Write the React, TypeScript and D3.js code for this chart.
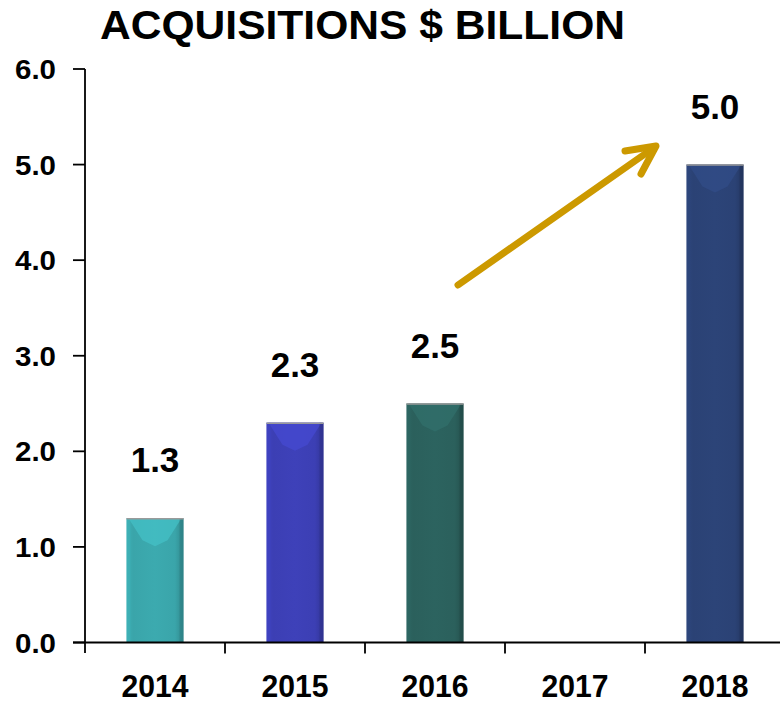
import React from "react";
import * as d3 from "d3";

const categories = ["2014", "2015", "2016", "2017", "2018"];
const values: (number | null)[] = [1.3, 2.3, 2.5, null, 5.0];
const valueLabels = ["1.3", "2.3", "2.5", "", "5.0"];
const yTicks = [0, 1, 2, 3, 4, 5, 6];
const barColors = ["#3aa5aa", "#3c3fb4", "#2b605c", "", "#2b4275"];
const titleText = "ACQUISITIONS $ BILLION";

const W = 780;
const H = 704;
const FONT = "'Liberation Sans', Arial, sans-serif";

export default function App() {
  const x = d3.scaleBand<string>().domain(categories).range([85, 785]).paddingInner(0).paddingOuter(0);
  const y = d3.scaleLinear().domain([0, 6]).range([642.5, 69]);
  const barW = 57;

  const lighten = (c: string, k: number) => d3.color(c)!.brighter(k).formatHex();
  const darken = (c: string, k: number) => d3.color(c)!.darker(k).formatHex();

  return (
    <svg width={W} height={H} style={{ display: "block", position: "absolute", left: 0, top: 0 }}>
      <defs>
        {barColors.map((c, i) =>
          c ? (
            <linearGradient key={i} id={`g${i}`} x1="0" x2="1" y1="0" y2="0">
              <stop offset="0" stopColor={lighten(c, 0.15)} />
              <stop offset="0.12" stopColor={c} />
              <stop offset="0.5" stopColor={lighten(c, 0.08)} />
              <stop offset="0.85" stopColor={c} />
              <stop offset="1" stopColor={darken(c, 0.5)} />
            </linearGradient>
          ) : null
        )}
      </defs>
      <rect x={0} y={0} width={W} height={H} fill="#fff" />

      {/* title */}
      <text x={100} y={39} fontFamily={FONT} fontWeight="bold" fontSize={40} textLength={525} lengthAdjust="spacingAndGlyphs" fill="#000">
        {titleText}
      </text>

      {/* bars */}
      {categories.map((cat, i) => {
        const v = values[i];
        if (v == null) return null;
        const cx = x(cat)! + x.bandwidth() / 2;
        const x0 = cx - barW / 2;
        const yt = y(v);
        const yb = y(0);
        const c = barColors[i];
        const tri = 22;
        return (
          <g key={cat}>
            <rect x={x0} y={yt} width={barW} height={yb - yt} fill={`url(#g${i})`} />
            <polygon
              points={`${x0 + 2},${yt} ${x0 + barW - 2},${yt} ${x0 + barW - 16},${yt + tri} ${cx},${yt + tri + 6} ${x0 + 16},${yt + tri}`}
              fill={lighten(c, 0.45)}
              opacity={0.7}
            />
            <rect x={x0} y={yt} width={4} height={yb - yt} fill={lighten(c, 0.3)} opacity={0.35} />
            <rect x={x0 + barW - 4} y={yt} width={4} height={yb - yt} fill={darken(c, 0.8)} opacity={0.5} />
            <line x1={x0} x2={x0 + barW} y1={yt + 0.5} y2={yt + 0.5} stroke="#9a9a9a" strokeWidth={1.5} />
            <text
              x={cx}
              y={yt - 46}
              textAnchor="middle"
              fontFamily={FONT}
              fontWeight="bold"
              fontSize={35}
              fill="#000"
            >
              {valueLabels[i]}
            </text>
          </g>
        );
      })}

      {/* y axis */}
      <line x1={85} x2={85} y1={y(6)} y2={653} stroke="#000" strokeWidth={1.8} />
      {yTicks.map((t) => (
        <g key={t}>
          <line x1={73} x2={85} y1={y(t)} y2={y(t)} stroke="#000" strokeWidth={1.8} />
          <text
            x={56}
            y={y(t) + 10}
            textAnchor="end"
            fontFamily={FONT}
            fontWeight="bold"
            fontSize={28}
            textLength={41}
            lengthAdjust="spacingAndGlyphs"
            fill="#000"
          >
            {t.toFixed(1)}
          </text>
        </g>
      ))}

      {/* x axis */}
      <line x1={73} x2={780} y1={y(0)} y2={y(0)} stroke="#000" strokeWidth={1.8} />
      {categories.map((cat, i) =>
        i > 0 ? (
          <line key={cat} x1={x(cat)!} x2={x(cat)!} y1={y(0)} y2={y(0) + 11} stroke="#000" strokeWidth={1.8} />
        ) : null
      )}
      {categories.map((cat) => (
        <text
          key={cat}
          x={x(cat)! + x.bandwidth() / 2}
          y={697}
          textAnchor="middle"
          fontFamily={FONT}
          fontWeight="bold"
          fontSize={31}
          textLength={67}
          lengthAdjust="spacingAndGlyphs"
          fill="#000"
        >
          {cat}
        </text>
      ))}

      {/* arrow */}
      <g stroke="#cc9900" strokeWidth={7} strokeLinecap="round" strokeLinejoin="round" fill="none">
        <line x1={458} y1={285} x2={652} y2={149} />
        <polyline points={`625,151 656,146 641,174`} />
      </g>
    </svg>
  );
}
